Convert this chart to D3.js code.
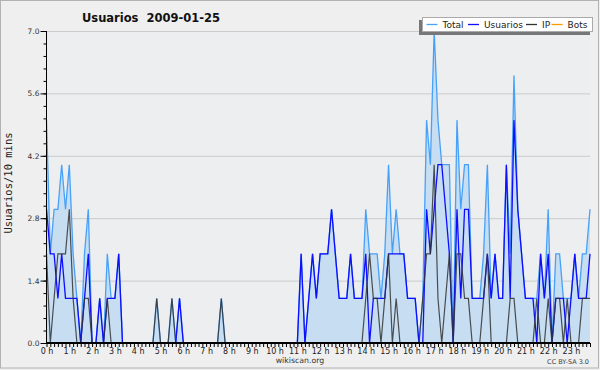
<!DOCTYPE html>
<html>
<head>
<meta charset="utf-8">
<script src="https://cdn.jsdelivr.net/npm/d3@7"></script>
<style>
  html, body { margin: 0; padding: 0; background: #efefef; }
  svg { display: block; font-family: "DejaVu Sans", sans-serif; }
</style>
</head>
<body>
<svg width="600" height="370"></svg>
<script>
// valores cada 10 minutos, 00:00 .. 23:50 (144 puntos)
const total = [
  5,2,3,3,4,3,4,2,1,0, 2,3,0,0,1,0,2,1,1,2, 0,0,0,0,0,0,0,0,0,1,
  0,0,0,1,0,1,0,0,0,0, 0,0,0,0,0,0,1,0,0,0, 0,0,0,0,0,0,0,0,0,0,
  0,0,0,0,0,0,0,2,0,1, 2,1,2,2,2,3,2,1,1,1, 2,1,1,1,3,2,2,2,1,2,
  4,2,3,2,2,1,1,1,0,1, 5,4,7,5,4,4,4,0,5,3, 4,4,1,1,1,2,4,1,2,1,
  1,4,2,6,3,2,1,1,1,1, 2,1,3,0,2,2,1,1,1,2, 1,2,2,3
];
const usuarios = [
  3,2,2,1,2,1,1,1,1,0, 1,2,0,0,1,0,1,1,1,2, 0,0,0,0,0,0,0,0,0,0,
  0,0,0,0,0,1,0,0,0,0, 0,0,0,0,0,0,0,0,0,0, 0,0,0,0,0,0,0,0,0,0,
  0,0,0,0,0,0,0,2,0,1, 2,1,2,2,2,3,2,1,1,1, 2,1,1,1,2,0,1,1,1,1,
  2,2,2,2,2,1,1,1,0,0, 3,2,3,4,4,3,2,0,3,1, 3,3,1,1,1,1,2,1,2,1,
  1,4,1,5,3,2,1,1,1,0, 2,1,2,0,1,1,1,0,1,2, 1,1,1,2
];
const ip = [
  2,0,1,2,2,2,3,1,0,0, 1,1,0,0,0,0,1,0,0,0, 0,0,0,0,0,0,0,0,0,1,
  0,0,0,1,0,0,0,0,0,0, 0,0,0,0,0,0,1,0,0,0, 0,0,0,0,0,0,0,0,0,0,
  0,0,0,0,0,0,0,0,0,0, 0,0,0,0,0,0,0,0,0,0, 0,0,0,0,1,2,1,1,0,1,
  2,0,1,0,0,0,0,0,0,1, 2,2,4,1,0,1,2,0,2,2, 1,1,0,0,0,1,2,0,0,0,
  0,0,1,1,0,0,0,0,0,1, 0,0,1,0,1,1,0,1,0,0, 0,1,1,1
];
const bots = total.map(() => 0);

const seriesNames = ["Total", "Usuarios", "IP", "Bots"];
const seriesColors = ["#47a1f8", "#0d0dff", "#333333", "#ff9900"];
const yTicks = [0, 1.4, 2.8, 4.2, 5.6, 7.0];

const svg = d3.select("svg");

// marco exterior
svg.append("rect")
    .attr("x", 0.5).attr("y", 0.5)
    .attr("width", 598).attr("height", 367.5)
    .attr("fill", "#efefef")
    .attr("stroke", "#b2b2b2");

const area = { left: 46, right: 590, top: 31, bottom: 343 };

const scX = d3.scaleLinear().domain([0, 143]).range([area.left + 0.5, area.right]);
const scY = d3.scaleLinear().domain([0, 7]).range([area.bottom, area.top]);

// fondo del grafico
svg.append("rect")
    .attr("x", area.left).attr("y", area.top)
    .attr("width", area.right - area.left).attr("height", area.bottom - area.top)
    .attr("fill", "#edeef0");

// lineas de la rejilla
svg.append("g")
    .selectAll("line")
    .data(yTicks.slice(1))
    .join("line")
    .attr("x1", area.left).attr("x2", area.right)
    .attr("y1", d => scY(d) + 0.5).attr("y2", d => scY(d) + 0.5)
    .attr("stroke", "#cbcbcb");

// area bajo el total
svg.append("path")
    .datum(total)
    .attr("d", d3.area().x((d, i) => scX(i)).y0(scY(0)).y1(d => scY(d)))
    .attr("fill", "#c7ddf1");

const line = d3.line().x((d, i) => scX(i)).y(d => scY(d));
[total, usuarios, ip, bots].forEach((s, k) => {
    svg.append("path")
        .datum(s)
        .attr("d", line)
        .attr("fill", "none")
        .attr("stroke", seriesColors[k])
        .attr("stroke-width", k === 2 ? 1.2 : 1.3)
        .attr("stroke-opacity", k === 2 ? 0.85 : 1)
        .attr("stroke-linejoin", "miter");
});

// eje X
const axisX = d3.axisBottom(scX)
    .tickValues(d3.range(0, 144))
    .tickSize(4)
    .tickPadding(1)
    .tickFormat(i => i % 6 === 0 ? (i / 6) + " h" : "");
const gx = svg.append("g")
    .attr("transform", `translate(0, ${area.bottom})`)
    .call(axisX);
gx.select(".domain").attr("d", `M${area.left},0H${area.right}`)
    .attr("stroke", "#000").attr("stroke-width", 2);
gx.selectAll("text").attr("font-size", 8).attr("fill", "#222")
    .attr("font-family", "DejaVu Sans");

// eje Y: marcas menores y mayores
const gyMinor = svg.append("g")
    .attr("transform", `translate(${area.left + 0.5}, 0)`)
    .call(d3.axisLeft(scY).tickValues(d3.range(0, 26).map(k => k * 0.28)).tickSize(3).tickFormat(""));
gyMinor.select(".domain").remove();

const gy = svg.append("g")
    .attr("transform", `translate(${area.left + 0.5}, 0)`)
    .call(d3.axisLeft(scY).tickValues(yTicks).tickSize(6).tickPadding(1).tickFormat(d3.format(".1f")));
gy.select(".domain").attr("d", `M0,${area.top}V${area.bottom}`).attr("stroke", "#000");
gy.selectAll("text").attr("font-size", 7.5).attr("fill", "#333")
    .attr("font-family", "DejaVu Sans");

// titulo
svg.append("text")
    .attr("x", 151).attr("y", 22)
    .attr("text-anchor", "middle")
    .attr("font-size", 11.5)
    .attr("font-weight", "bold")
    .attr("fill", "#111")
    .attr("xml:space", "preserve")
    .text("Usuarios  2009-01-25");

// titulo eje Y
svg.append("text")
    .attr("transform", "translate(12, 183) rotate(-90)")
    .attr("text-anchor", "middle")
    .attr("font-family", "DejaVu Sans Mono")
    .attr("font-size", 10.5)
    .attr("fill", "#222")
    .text("Usuarios/10 mins");

svg.append("text")
    .attr("x", 300).attr("y", 363)
    .attr("text-anchor", "middle")
    .attr("font-size", 7.8)
    .attr("fill", "#333")
    .text("wikiscan.org");

svg.append("text")
    .attr("x", 589).attr("y", 364)
    .attr("text-anchor", "end")
    .attr("font-size", 6.5)
    .attr("fill", "#444")
    .text("CC BY-SA 3.0");

// leyenda
const leg = { x: 422, y: 17, w: 171, h: 15 };
svg.append("rect")
    .attr("x", leg.x - 3).attr("y", leg.y + 3)
    .attr("width", leg.w).attr("height", leg.h)
    .attr("fill", "#777");
svg.append("rect")
    .attr("x", leg.x + 0.5).attr("y", leg.y + 0.5)
    .attr("width", leg.w - 1).attr("height", leg.h - 1)
    .attr("fill", "#fff")
    .attr("stroke", "#aaa");

const legX = [426.5, 468, 526, 551.5];
seriesNames.forEach((name, k) => {
    svg.append("line")
        .attr("x1", legX[k]).attr("x2", legX[k] + 11)
        .attr("y1", 24.5).attr("y2", 24.5)
        .attr("stroke", seriesColors[k])
        .attr("stroke-width", 1.3);
    svg.append("text")
        .attr("x", legX[k] + 16).attr("y", 28)
        .attr("font-size", 9)
        .attr("fill", "#222")
        .text(name);
});
</script>
</body>
</html>
